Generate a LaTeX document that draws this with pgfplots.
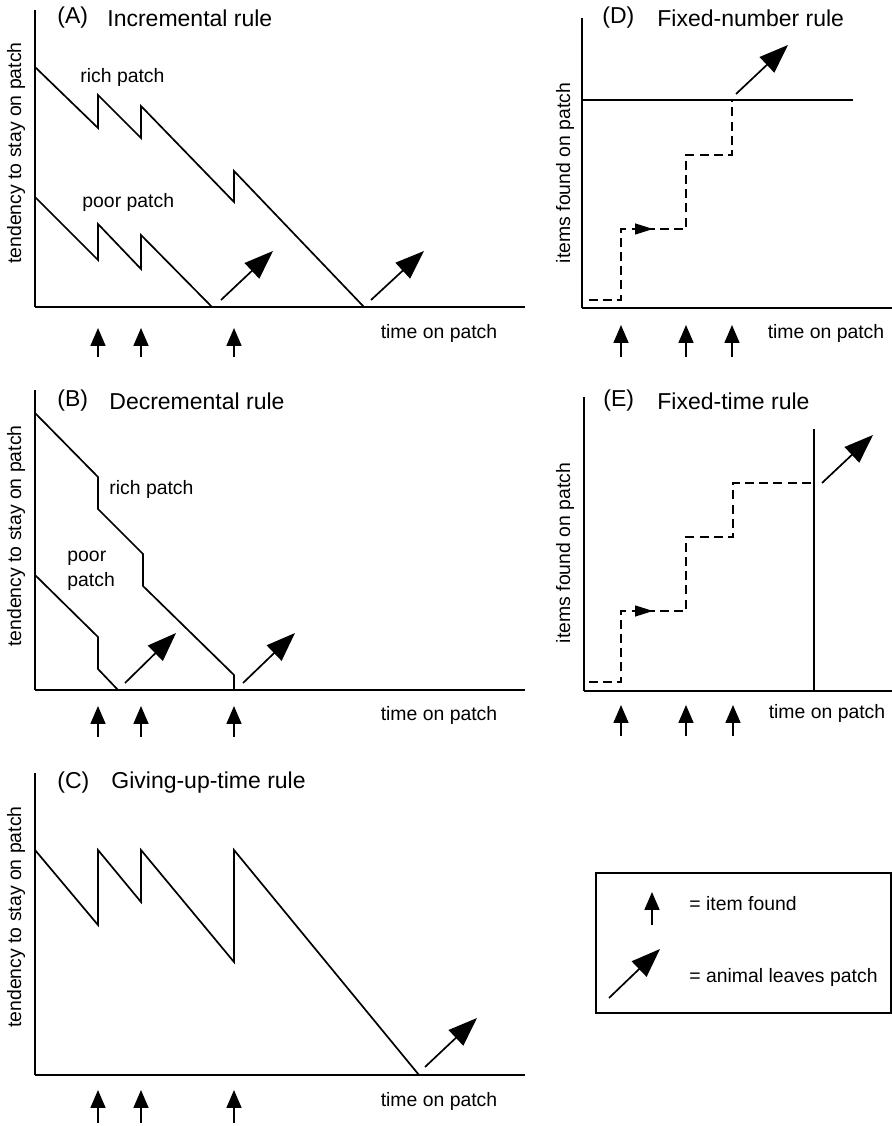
\documentclass[border=0pt]{standalone}
\usepackage{fontspec}
\setmainfont{Liberation Sans}
\usepackage{pgfplots}
\pgfplotsset{compat=1.18}
\usetikzlibrary{arrows.meta}
\begin{document}
\begin{tikzpicture}[
  lab/.style={font=\fontsize{9.7}{11}\selectfont, inner sep=0pt},
  ttl/.style={font=\fontsize{11.5}{13}\selectfont, inner sep=0pt, anchor=west},
]
\useasboundingbox (0,0) rectangle (446pt,563pt);
\pgfplotsset{
  panel/.style={x=0.5pt, y=0.5pt, xmin=0, ymin=0, axis x line=bottom, axis y line=left,
    axis line style={-, line width=1.15pt}, ticks=none, clip=false, anchor=south west},
  curve/.style={black, line width=0.85pt, mark=none},
  dsh/.style={black, line width=0.85pt, mark=none, dash pattern=on 4.5pt off 2.6pt},
  item/.style={black, line width=0.85pt, mark=none, -{Triangle[length=9pt,width=7.5pt]}},
  leave/.style={black, line width=0.85pt, mark=none, -{Triangle[length=14.5pt,width=10.6pt]}},
  small/.style={black, line width=0.6pt, mark=none, -{Triangle[length=9pt,width=5.5pt]}},
}
% ---------------- Panel A ----------------
\begin{axis}[panel, at={(17.5pt,409.5pt)}, xmax=490, ymax=297]
\addplot[curve] coordinates {(0,240) (63,179) (63,212) (106,169) (106,201) (199,105) (199,136) (329,0)};
\addplot[curve] coordinates {(0,110) (63,47) (63,83) (106,38) (106,72) (177,0)};
\addplot[leave] coordinates {(186,7) (238,56)};
\addplot[leave] coordinates {(336,7) (389,56)};
\addplot[item] coordinates {(63,-50) (63,-21)};
\addplot[item] coordinates {(106,-50) (106,-21)};
\addplot[item] coordinates {(199,-50) (199,-21)};
\node[ttl] at (axis cs:22,289) {(A)};
\node[ttl] at (axis cs:72,289) {Incremental rule};
\node[lab, anchor=west] at (axis cs:45,230) {rich patch};
\node[lab, anchor=west] at (axis cs:47,105) {poor patch};
\node[lab] at (axis cs:404,-26) {time on patch};
\node[lab, rotate=90] at (axis cs:-19,154) {tendency to stay on patch};
\end{axis}
% ---------------- Panel B ----------------
\begin{axis}[panel, at={(17.5pt,218pt)}, xmax=490, ymax=300]
\addplot[curve] coordinates {(0,277) (63,213) (63,181) (108,136) (108,104) (199,15) (199,0)};
\addplot[curve] coordinates {(0,115) (63,53) (63,21) (83,0) (88,0)};
\addplot[leave] coordinates {(90,7) (141,57)};
\addplot[leave] coordinates {(208,7) (260,57)};
\addplot[item] coordinates {(63,-47) (63,-16)};
\addplot[item] coordinates {(106,-47) (106,-16)};
\addplot[item] coordinates {(199,-47) (199,-16)};
\node[ttl] at (axis cs:22,289) {(B)};
\node[ttl] at (axis cs:74,289) {Decremental rule};
\node[lab, anchor=west] at (axis cs:74,201) {rich patch};
\node[lab, anchor=west] at (axis cs:32,132) {poor};
\node[lab, anchor=west] at (axis cs:32,109) {patch};
\node[lab] at (axis cs:404,-25) {time on patch};
\node[lab, rotate=90] at (axis cs:-19,154) {tendency to stay on patch};
\end{axis}
% ---------------- Panel C ----------------
\begin{axis}[panel, at={(17.5pt,25.5pt)}, xmax=490, ymax=302]
\addplot[curve] coordinates {(0,225) (63,150) (63,225) (106,173) (106,225) (199,113) (199,225) (384,0)};
\addplot[leave] coordinates {(390,8) (442,57)};
\addplot[item] coordinates {(63,-48) (63,-15)};
\addplot[item] coordinates {(106,-48) (106,-15)};
\addplot[item] coordinates {(199,-48) (199,-15)};
\node[ttl] at (axis cs:22,292) {(C)};
\node[ttl] at (axis cs:76,292) {Giving-up-time rule};
\node[lab] at (axis cs:404,-26) {time on patch};
\node[lab, rotate=90] at (axis cs:-19,158) {tendency to stay on patch};
\end{axis}
% ---------------- Panel D ----------------
\begin{axis}[panel, at={(291pt,409pt)}, xmax=310, ymax=290]
\addplot[curve] coordinates {(0,208) (271,208)};
\addplot[dsh] coordinates {(7,8) (39,8) (39,79) (104,79) (104,153) (150,153) (150,208)};
\addplot[small] coordinates {(50,79) (71,79)};
\addplot[leave] coordinates {(154,214) (206,263)};
\addplot[item] coordinates {(39,-49) (39,-17)};
\addplot[item] coordinates {(104,-49) (104,-17)};
\addplot[item] coordinates {(150,-49) (150,-17)};
\node[ttl] at (axis cs:20,290) {(D)};
\node[ttl] at (axis cs:75,290) {Fixed-number rule};
\node[lab] at (axis cs:244,-25) {time on patch};
\node[lab, rotate=90] at (axis cs:-17,135) {items found on patch};
\end{axis}
% ---------------- Panel E ----------------
\begin{axis}[panel, at={(292pt,217.5pt)}, xmax=308, ymax=294]
\addplot[curve] coordinates {(230,0) (230,262)};
\addplot[dsh] coordinates {(5,9) (37,9) (37,80) (102,80) (102,154) (149,154) (149,208) (230,208)};
\addplot[small] coordinates {(48,80) (69,80)};
\addplot[leave] coordinates {(238,208) (289,256)};
\addplot[item] coordinates {(37,-45) (37,-14)};
\addplot[item] coordinates {(102,-45) (102,-14)};
\addplot[item] coordinates {(149,-45) (149,-14)};
\node[ttl] at (axis cs:19,290) {(E)};
\node[ttl] at (axis cs:73,290) {Fixed-time rule};
\node[lab] at (axis cs:243,-22) {time on patch};
\node[lab, rotate=90] at (axis cs:-19,138) {items found on patch};
\end{axis}
% ---------------- Key ----------------
\begin{axis}[x=0.5pt, y=0.5pt, xmin=0, xmax=295, ymin=0, ymax=140, ticks=none, clip=false,
  anchor=south west, at={(298pt,56.5pt)}, axis line style={line width=0.8pt}]
\addplot[item] coordinates {(56,88) (56,121)};
\addplot[leave] coordinates {(13,15) (64,64)};
\node[lab, anchor=west] at (axis cs:93,109) {= item found};
\node[lab, anchor=west] at (axis cs:93,36) {= animal leaves patch};
\end{axis}
\end{tikzpicture}
\end{document}
